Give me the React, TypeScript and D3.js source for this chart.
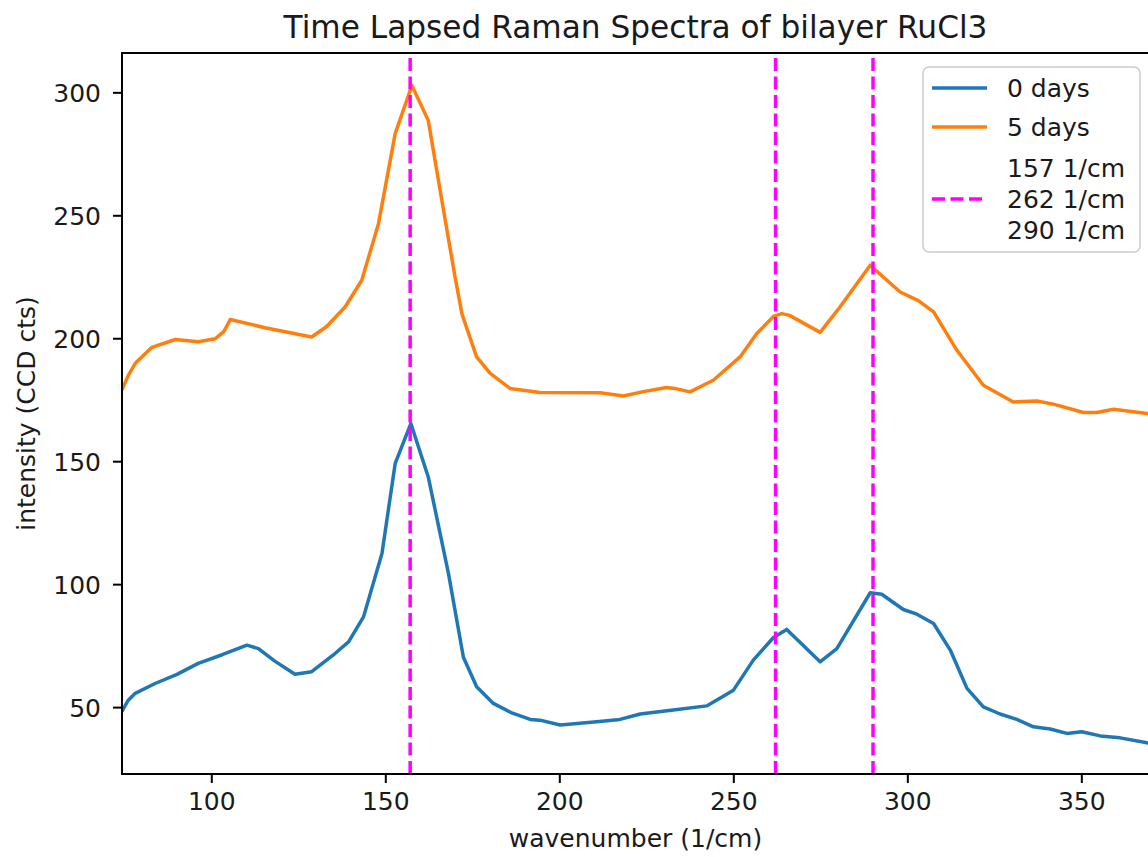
import React from "react";
import * as d3 from "d3";

// ---- data ----
const day0X = [74.1, 76, 78, 83.7, 90, 96.1, 103, 110.1, 113.4, 118, 123.9, 128.7, 135.4, 139.3, 143.6, 148.9, 152.7, 157.2, 162.2, 168, 172.3, 176.1, 180.9, 186, 191.5, 194.3, 200.1, 205, 210.6, 217.3, 223.1, 232.6, 242.2, 249.9, 255.6, 261.4, 265.2, 274.8, 279.6, 289.2, 292.5, 298.7, 302.6, 307.4, 312.2, 317, 321.7, 326.5, 331.3, 336.1, 340.9, 345.7, 350, 355.3, 361, 368.7, 373];
const day0Y = [48.3, 53, 55.8, 59.8, 63.5, 68, 71.5, 75.4, 74, 69, 63.6, 64.6, 72, 76.7, 86.9, 112.7, 149.3, 165.5, 143.8, 104.6, 70.5, 58.5, 51.7, 48, 45.2, 44.9, 42.9, 43.5, 44.2, 45.2, 47.4, 49, 50.7, 57.1, 69.3, 78.5, 81.8, 68.6, 74, 96.7, 96.1, 89.9, 88, 84.2, 73.4, 57.8, 50.3, 47.4, 45.2, 42.2, 41.3, 39.5, 40.2, 38.5, 37.7, 35.7, 35];

const day5X = [74.1, 76, 78, 82.8, 89.5, 96.1, 101, 103.5, 105.3, 115.3, 128.7, 133, 138.3, 143.1, 147.9, 152.7, 157.5, 162.2, 166.1, 169.9, 171.9, 176.1, 180, 185.7, 194.3, 211.6, 218.3, 224, 230.7, 233, 237.4, 244.1, 251.8, 256.6, 261.4, 263.8, 266, 274.8, 280.5, 289.2, 293, 297.8, 303, 307.4, 314.1, 321.7, 330.3, 337.1, 341.8, 350.5, 354.3, 359.1, 368.7, 373];
const day5Y = [179, 185, 190, 196.5, 199.7, 198.8, 200, 203, 207.8, 204.5, 200.7, 205, 212.9, 223.8, 246.8, 283.4, 303, 288.8, 256.3, 225.1, 210, 192.6, 185.9, 179.8, 178.1, 178, 176.7, 178.5, 180.2, 179.8, 178.4, 183.1, 192.6, 202.1, 209.1, 210.2, 209.5, 202.6, 212.9, 229.9, 225, 219, 215.5, 210.9, 195.3, 181.1, 174.3, 174.7, 173.4, 170, 170, 171.3, 169.6, 169];

const peakLines = [157, 262, 290];
const xTicks = [100, 150, 200, 250, 300, 350];
const yTicks = [50, 100, 150, 200, 250, 300];
const seriesNames = ["0 days", "5 days"];
const peakLabels = ["157 1/cm", "262 1/cm", "290 1/cm"];

const title = "Time Lapsed Raman Spectra of bilayer RuCl3";
const xLabel = "wavenumber (1/cm)";
const yLabel = "intensity (CCD cts)";

// ---- layout ----
const W = 1148;
const H = 857;
const left = 122;
const right = 1149;
const top = 53;
const bottom = 774;
const FONT = "'DejaVu Sans', sans-serif";
const BLUE = "#1f77b4";
const ORANGE = "#ff7f0e";
const MAGENTA = "#ff00ff";

export default function App() {
  const x = d3.scaleLinear().domain([74.2, 369.3]).range([left, right]);
  const y = d3.scaleLinear().domain([23, 316.2]).range([bottom, top]);

  const line = d3
    .line<[number, number]>()
    .x((d) => x(d[0]))
    .y((d) => y(d[1]));

  const s0 = day0X.map((v, i) => [v, day0Y[i]] as [number, number]);
  const s5 = day5X.map((v, i) => [v, day5Y[i]] as [number, number]);

  const tickLen = 9;
  const fs = 25;

  // legend geometry
  const lgX = 923;
  const lgY = 67;
  const lgW = 217;
  const lgH = 185;
  const hx0 = 932;
  const hx1 = 987;
  const tx = 1007;

  return (
    <svg
      width={W}
      height={H}
      style={{ position: "absolute", left: 0, top: 0, background: "#fff" }}
      fontFamily={FONT}
    >
      <defs>
        <clipPath id="plotclip">
          <rect x={left} y={top} width={right - left} height={bottom - top} />
        </clipPath>
      </defs>
      <rect x={0} y={0} width={W} height={H} fill="#fff" />

      {/* title */}
      <text x={(left + right) / 2} y={38} textAnchor="middle" fontSize={31.2} fill="#1a1a1a">
        {title}
      </text>

      <g clipPath="url(#plotclip)">
        <path d={line(s0) || ""} fill="none" stroke={BLUE} strokeWidth={3.5} strokeLinejoin="round" strokeLinecap="butt" />
        <path d={line(s5) || ""} fill="none" stroke={ORANGE} strokeWidth={3.5} strokeLinejoin="round" strokeLinecap="butt" />
        {peakLines.map((p) => (
          <line
            key={p}
            x1={x(p)}
            x2={x(p)}
            y1={bottom}
            y2={top}
            stroke={MAGENTA}
            strokeWidth={3.5}
            strokeDasharray="13,5.5"
          />
        ))}
      </g>

      {/* spines */}
      <rect x={left} y={top} width={right - left} height={bottom - top} fill="none" stroke="#000" strokeWidth={2} />

      {/* x ticks */}
      {xTicks.map((t) => (
        <g key={t}>
          <line x1={x(t)} x2={x(t)} y1={bottom} y2={bottom + tickLen} stroke="#000" strokeWidth={2} />
          <text x={x(t)} y={bottom + tickLen + 8} dy="0.76em" textAnchor="middle" fontSize={fs} fill="#1a1a1a">
            {t}
          </text>
        </g>
      ))}

      {/* y ticks */}
      {yTicks.map((t) => (
        <g key={t}>
          <line x1={left - tickLen} x2={left} y1={y(t)} y2={y(t)} stroke="#000" strokeWidth={2} />
          <text x={left - tickLen - 12} y={y(t)} dy="0.36em" textAnchor="end" fontSize={fs} fill="#1a1a1a">
            {t}
          </text>
        </g>
      ))}

      {/* axis labels */}
      <text x={(left + right) / 2} y={847} textAnchor="middle" fontSize={fs} fill="#1a1a1a">
        {xLabel}
      </text>
      <text
        transform={`translate(35, ${(top + bottom) / 2}) rotate(-90)`}
        textAnchor="middle"
        fontSize={fs}
        fill="#1a1a1a"
      >
        {yLabel}
      </text>

      {/* legend */}
      <rect x={lgX} y={lgY} width={lgW} height={lgH} rx={6} ry={6} fill="#fff" fillOpacity={0.8} stroke="#cccccc" strokeWidth={1.5} />
      <line x1={hx0} x2={hx1} y1={88} y2={88} stroke={BLUE} strokeWidth={3.5} />
      <text x={tx} y={88} dy="0.36em" fontSize={fs} fill="#1a1a1a">{seriesNames[0]}</text>
      <line x1={hx0} x2={hx1} y1={127} y2={127} stroke={ORANGE} strokeWidth={3.5} />
      <text x={tx} y={127} dy="0.36em" fontSize={fs} fill="#1a1a1a">{seriesNames[1]}</text>
      <line x1={hx0} x2={hx1} y1={199} y2={199} stroke={MAGENTA} strokeWidth={3.5} strokeDasharray="13,5.5" />
      {peakLabels.map((lbl, i) => (
        <text key={lbl} x={tx} y={168 + i * 31} dy="0.36em" fontSize={fs} fill="#1a1a1a">
          {lbl}
        </text>
      ))}
    </svg>
  );
}
